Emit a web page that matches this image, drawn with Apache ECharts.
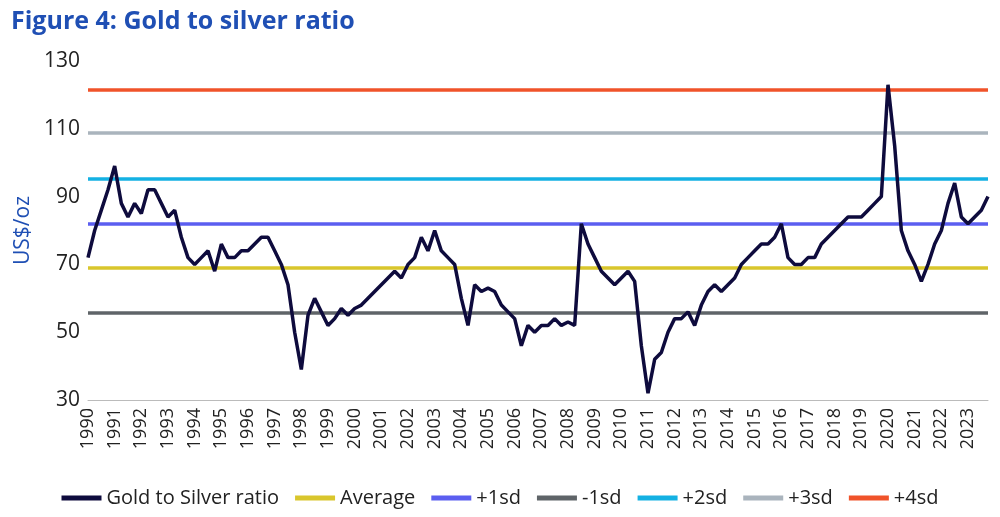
<!DOCTYPE html>
<html>
<head>
<meta charset="utf-8">
<script src="https://cdn.jsdelivr.net/npm/echarts@6/dist/echarts.min.js"></script>
<style>html,body{margin:0;background:#fff}#main{width:1000px;height:517px}</style>
</head>
<body>
<div id="main"></div>
<script>
var years = [];
for (var y = 1990; y <= 2023; y++) years.push(String(y));

// quarterly readings, Q1..Q4 per year
var ratio = [
  72, 80, 86, 92,  99, 88, 84, 88,  85, 92, 92, 88,  84, 86, 78, 72,
  70, 72, 74, 68,  76, 72, 72, 74,  74, 76, 78, 78,  74, 70, 64, 50,
  39, 55, 60, 56,  52, 54, 57, 55,  57, 58, 60, 62,  64, 66, 68, 66,
  70, 72, 78, 74,  80, 74, 72, 70,  60, 52, 64, 62,  63, 62, 58, 56,
  54, 46, 52, 50,  52, 52, 54, 52,  53, 52, 82, 76,  72, 68, 66, 64,
  66, 68, 65, 46,  32, 42, 44, 50,  54, 54, 56, 52,  58, 62, 64, 62,
  64, 66, 70, 72,  74, 76, 76, 78,  82, 72, 70, 70,  72, 72, 76, 78,
  80, 82, 84, 84,  84, 86, 88, 90,  123, 105, 80, 74,  70, 65, 70, 76,
  80, 88, 94, 84,  82, 84, 86, 90
];

var bandNames = ['Average', '+1sd', '-1sd', '+2sd', '+3sd', '+4sd'];
var bandValues = [69, 82, 55.7, 95.2, 108.8, 121.4];
var bandColors = ['#d9c62c', '#5b5ef0', '#5f6468', '#14b1e3', '#aab4bd', '#f0532a'];

var cats = [];
years.forEach(function (y) { for (var q = 1; q <= 4; q++) cats.push(y + '-Q' + q); });

var chart = echarts.init(document.getElementById('main'));
var series = [{
  name: 'Gold to Silver ratio',
  type: 'line',
  data: ratio,
  symbol: 'none',
  z: 5,
  lineStyle: { color: '#0e0b3d', width: 3.5 },
  itemStyle: { color: '#0e0b3d' }
}];
bandNames.forEach(function (n, i) {
  series.push({
    name: n,
    type: 'line',
    data: [],
    itemStyle: { color: bandColors[i] },
    markLine: {
      silent: true, symbol: 'none', label: { show: false },
      lineStyle: { color: bandColors[i], width: 3.5, type: 'solid' },
      data: [{ yAxis: bandValues[i] }]
    }
  });
});

chart.setOption({
  animation: false,
  title: {
    text: 'Figure 4: Gold to silver ratio', left: 6, top: 4,
    textStyle: { color: '#1f4fb4', fontSize: 25, fontWeight: 'bold', fontFamily: 'Open Sans' }
  },
  grid: { left: 88, right: 12, top: 61, bottom: 117 },
  legend: {
    bottom: 4, left: 'center', icon: 'rect', itemWidth: 40, itemHeight: 5, itemGap: 16,
    textStyle: { fontSize: 20, color: '#222', fontFamily: 'Open Sans' },
    data: ['Gold to Silver ratio'].concat(bandNames)
  },
  xAxis: {
    type: 'category', data: cats, boundaryGap: false,
    axisLine: { lineStyle: { color: '#bbb' } },
    axisTick: { show: false },
    axisLabel: {
      rotate: 90, fontSize: 18, color: '#222', fontFamily: 'Open Sans',
      interval: function (i) { return i % 4 === 0; },
      formatter: function (v) { return v.slice(0, 4); }
    }
  },
  yAxis: {
    type: 'value', min: 30, max: 130, interval: 20,
    name: 'US$/oz', nameLocation: 'middle', nameGap: 54,
    nameTextStyle: { color: '#1f4fb4', fontSize: 21, fontFamily: 'Open Sans' },
    axisLabel: { fontSize: 21, color: '#222', fontFamily: 'Open Sans' },
    splitLine: { show: false }, axisLine: { show: false }
  },
  series: series
});
</script>
</body>
</html>
